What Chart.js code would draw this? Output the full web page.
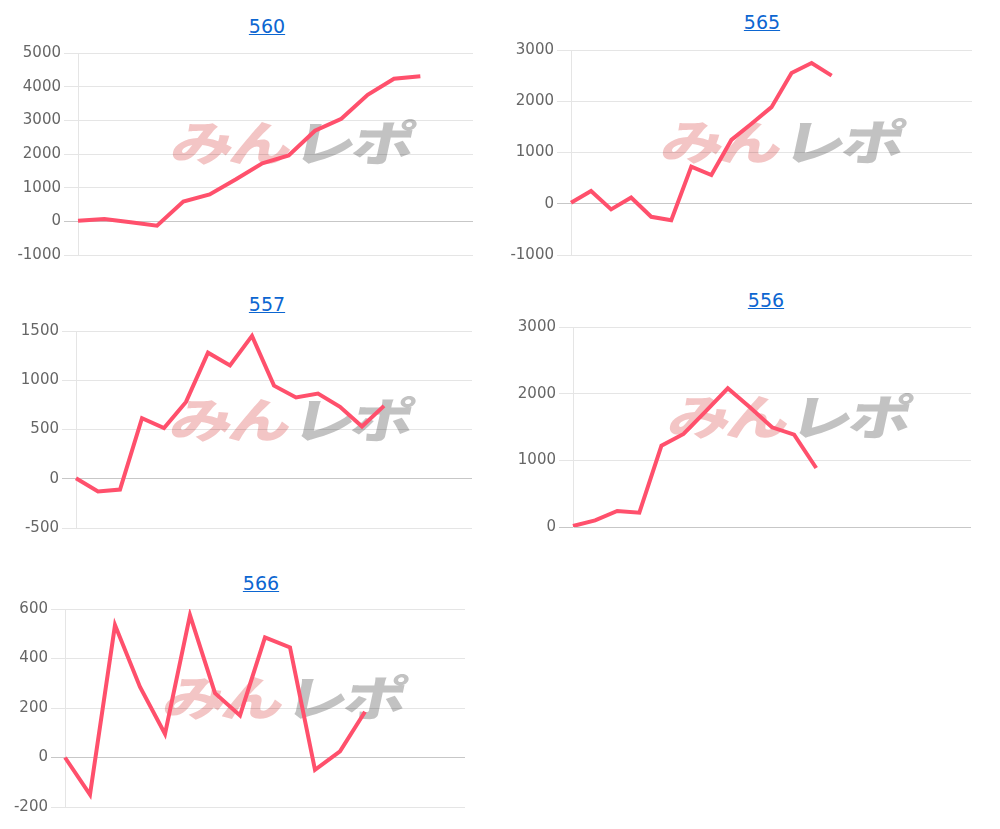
<!DOCTYPE html>
<html lang="ja">
<head>
    <meta charset="UTF-8">
    <title>みんレポ</title>
    <script src="https://cdn.jsdelivr.net/npm/chart.js"></script>
    <style>
        body { margin: 0; background: #fff; font-family: "DejaVu Sans", sans-serif; }
        .box { position: absolute; z-index: 2; }
        .title { position: absolute; transform: translateX(-50%); font-size: 19px; line-height: 22px; z-index: 3; }
        .title a { color: #0c66d1; text-decoration: underline; }
        .mark { position: absolute; width: 245px; height: 45px; z-index: 1; white-space: nowrap;
                font-family: "Noto Sans CJK JP", sans-serif; font-weight: 900; font-size: 48px; line-height: 45px;
                transform-origin: left center; transform: skewX(-12deg) scaleX(1.3); letter-spacing: -3px; }
        .mark .a { color: rgba(222, 95, 95, 0.36); }
        .mark .b { color: rgba(110, 110, 110, 0.42); margin-left: 4px; }
    </style>
</head>
<body>
    <div id="page"></div>

    <script>
        // データ
        const titles = ['560', '565', '557', '556', '566'];

        const values560 = [20, 70, -30, -130, 585, 800, 1250, 1725, 1955, 2690, 3045, 3760, 4235, 4310];
        const values565 = [20, 250, -110, 120, -255, -320, 725, 560, 1245, 1560, 1885, 2550, 2745, 2500];
        const values557 = [5, -130, -110, 615, 515, 780, 1280, 1150, 1450, 945, 825, 865, 730, 530, 740];
        const values556 = [15, 100, 240, 215, 1220, 1395, 1735, 2080, 1795, 1495, 1385, 885];
        const values566 = [0, -150, 535, 285, 95, 575, 260, 170, 485, 445, -50, 25, 185];

        // x軸ラベル（非表示）
        const blankLabels = n => Array.from({ length: n }, () => '');
        const labels560 = blankLabels(16);
        const labels565 = blankLabels(21);
        const labels557 = blankLabels(19);
        const labels556 = blankLabels(19);
        const labels566 = blankLabels(17);

        // y軸 min / max / 間隔
        const yMin = [-1000, -1000, -500, 0, -200];
        const yMax = [5000, 3000, 1500, 3000, 600];
        const yStep = [1000, 1000, 500, 1000, 200];

        const allValues = [values560, values565, values557, values556, values566];
        const allLabels = [labels560, labels565, labels557, labels556, labels566];

        // 配置
        const boxes = [
            { left: 0,   top: 41,  width: 473, height: 226, yw: 78, tx: 267, ty: 15,  mx: 173, my: 118 },
            { left: 493, top: 38,  width: 479, height: 229, yw: 78, tx: 762, ty: 11,  mx: 663, my: 117 },
            { left: 0,   top: 319, width: 472, height: 221, yw: 76, tx: 267, ty: 293, mx: 172, my: 395 },
            { left: 495, top: 315, width: 476, height: 224, yw: 78, tx: 766, ty: 289, mx: 670, my: 392 },
            { left: 0,   top: 597, width: 465, height: 222, yw: 65, tx: 261, ty: 572, mx: 165, my: 673 }
        ];

        const page = document.getElementById('page');

        titles.forEach((t, i) => {
            const b = boxes[i];

            const title = document.createElement('div');
            title.className = 'title';
            title.style.left = b.tx + 'px';
            title.style.top = b.ty + 'px';
            title.innerHTML = '<a href="#">' + t + '</a>';
            page.appendChild(title);

            const mark = document.createElement('div');
            mark.className = 'mark';
            mark.style.left = b.mx + 'px';
            mark.style.top = b.my + 'px';
            mark.innerHTML = '<span class="a">みん</span><span class="b">レポ</span>';
            page.appendChild(mark);

            const box = document.createElement('div');
            box.className = 'box';
            box.style.left = b.left + 'px';
            box.style.top = b.top + 'px';
            box.style.width = b.width + 'px';
            box.style.height = b.height + 'px';
            const canvas = document.createElement('canvas');
            box.appendChild(canvas);
            page.appendChild(box);

            new Chart(canvas.getContext('2d'), {
                type: 'line',
                data: {
                    labels: allLabels[i],
                    datasets: [{
                        data: allValues[i],
                        borderColor: 'rgb(255, 80, 108)',
                        borderWidth: 4,
                        pointRadius: 0,
                        fill: false,
                        tension: 0
                    }]
                },
                options: {
                    responsive: true,
                    maintainAspectRatio: false,
                    animation: false,
                    layout: { padding: { top: 10, bottom: 10, left: 0, right: 0 } },
                    plugins: { legend: { display: false }, tooltip: { enabled: false } },
                    scales: {
                        x: { display: false, offset: false },
                        y: {
                            min: yMin[i], max: yMax[i],
                            afterFit: scale => { scale.width = b.yw; },
                            ticks: { stepSize: yStep[i], color: '#666', padding: 3,
                                     font: { family: 'DejaVu Sans', size: 15 },
                                     callback: v => String(v) },
                            grid: {
                                color: ctx => ctx.tick && ctx.tick.value === 0 ? 'rgba(0,0,0,0.22)' : 'rgba(0,0,0,0.1)',
                                tickLength: 14
                            },
                            border: { display: true, color: 'rgba(0,0,0,0.1)' }
                        }
                    }
                }
            });
        });
    </script>
</body>
</html>
